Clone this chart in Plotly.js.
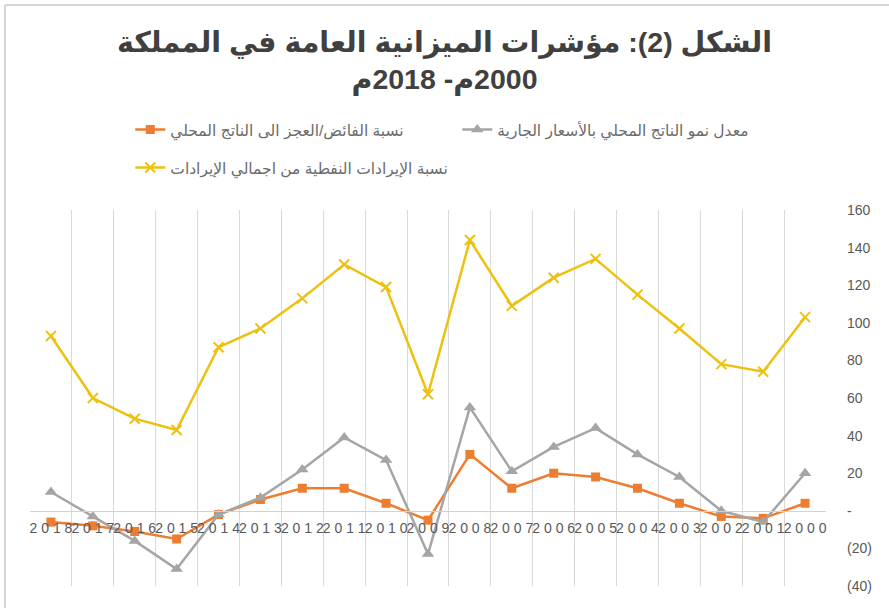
<!DOCTYPE html>
<html>
<head>
<meta charset="utf-8">
<script src="https://cdn.plot.ly/plotly-3.0.1.min.js"></script>
<style>
html,body{margin:0;padding:0;background:#fff;}
#chart{width:889px;height:608px;}
</style>
</head>
<body>
<div id="chart"></div>
<script>
// Categories (left to right as in the reference)
var years = ['2018','2017','2016','2015','2014','2013','2012','2011','2010','2009','2008','2007','2006','2005','2004','2003','2002','2001','2000'];
var yearLabels = ['2 0 1 8','2 0 1 7','2 0 1 6','2 0 1 5','2 0 1 4','2 0 1 3','2 0 1 2','2 0 1 1','2 0 1 0','2 0 0 9','2 0 0 8','2 0 0 7','2 0 0 6','2 0 0 5','2 0 0 4','2 0 0 3','2 0 0 2','2 0 0 1','2 0 0 0'];

// Series values
var surplusDeficitRatio = [-6, -8, -11, -15, -2, 6, 12, 12, 4, -5, 30, 12, 20, 18, 12, 4, -3, -4, 4];
var gdpGrowthCurrent   = [10, -3, -16, -31, -2, 7, 22, 39, 27, -23, 55, 21, 34, 44, 30, 18, 0, -6, 20];
var oilRevenueShare    = [93, 60, 49, 43, 87, 97, 113, 131, 119, 62, 144, 109, 124, 134, 115, 97, 78, 74, 103];

// Y tick labels
var yTickVals = [-40, -20, 0, 20, 40, 60, 80, 100, 120, 140, 160];
var yTickText = ['(40)', '(20)', '-', '20', '40', '60', '80', '100', '120', '140', '160'];

// Legend names and title
var nameSurplus = 'نسبة الفائض/العجز الى الناتج المحلي';
var nameGrowth = 'معدل نمو الناتج المحلي بالأسعار الجارية';
var nameOil = 'نسبة الإيرادات النفطية من اجمالي الإيرادات';
var titleLine1 = 'الشكل (2): مؤشرات الميزانية العامة في المملكة';
var titleLine2 = '\u202Dم2018 -م2000\u202C';

var FONT = 'Arial, "Liberation Sans", "DejaVu Sans", sans-serif';

var traces = [
  {
    x: years, y: surplusDeficitRatio, name: nameSurplus, type: 'scatter', mode: 'lines+markers',
    line: {color: '#ED7D31', width: 2.5},
    marker: {symbol: 'square', size: 9, color: '#ED7D31'},
    legend: 'legend'
  },
  {
    x: years, y: gdpGrowthCurrent, name: nameGrowth, type: 'scatter', mode: 'lines+markers',
    line: {color: '#A5A5A5', width: 2.5},
    marker: {symbol: 'triangle-up', size: 11, color: '#A5A5A5'},
    legend: 'legend'
  },
  {
    x: years, y: oilRevenueShare, name: nameOil, type: 'scatter', mode: 'lines+markers',
    line: {color: '#EDC10F', width: 2.5},
    marker: {symbol: 'x-thin', size: 10, color: '#EDC10F', line: {color: '#EDC10F', width: 2}},
    legend: 'legend2'
  }
];

var layout = {
  width: 889, height: 608,
  margin: {l: 30, r: 63, t: 210, b: 22},
  paper_bgcolor: '#ffffff', plot_bgcolor: '#ffffff',
  font: {family: FONT, color: '#595959'},
  title: {
    text: titleLine1 + '<br>' + titleLine2,
    font: {family: FONT, size: 28.5, color: '#404040', weight: 'bold'},
    x: 0.5, xref: 'container', xanchor: 'center',
    y: 0.915, yref: 'container', yanchor: 'top'
  },
  xaxis: {
    type: 'category',
    categoryorder: 'array', categoryarray: years,
    range: [-0.5, 18.5],
    tickmode: 'array', tickvals: years, ticktext: yearLabels,
    tickson: 'boundaries',
    ticks: '', tickangle: 0,
    showgrid: true, gridcolor: '#D9D9D9', gridwidth: 1,
    showline: true, linecolor: '#BDD7EE', linewidth: 1,
    anchor: 'free', position: 0.2,
    tickfont: {family: FONT, size: 14, color: '#595959'},
    ticklabelstandoff: 4,
    zeroline: false, fixedrange: true
  },
  yaxis: {
    range: [-40, 160],
    side: 'right',
    tickmode: 'array', tickvals: yTickVals, ticktext: yTickText,
    showgrid: false, zeroline: false, showline: false, ticks: '',
    ticklabelstandoff: 20,
    tickfont: {family: FONT, size: 14, color: '#595959'},
    fixedrange: true
  },
  legend: {
    orientation: 'h',
    x: 0.126, xanchor: 'left',
    y: 1.213, yanchor: 'middle',
    entrywidth: 282, entrywidthmode: 'pixels',
    font: {family: FONT, size: 15.5, color: '#6B6B6B'},
    bgcolor: 'rgba(0,0,0,0)'
  },
  legend2: {
    orientation: 'h',
    x: 0.126, xanchor: 'left',
    y: 1.112, yanchor: 'middle',
    font: {family: FONT, size: 15.5, color: '#6B6B6B'},
    bgcolor: 'rgba(0,0,0,0)'
  },
  shapes: [
    {type: 'line', xref: 'paper', yref: 'paper', x0: -0.0314, x1: -0.0314, y0: -0.1, y1: 1.545, line: {color: '#C8C8C8', width: 1.5}},
    {type: 'line', xref: 'paper', yref: 'paper', x0: -0.0314, x1: 1.2, y0: 1.545, y1: 1.545, line: {color: '#C8C8C8', width: 1.5}}
  ],
  showlegend: true
};

Plotly.newPlot('chart', traces, layout, {displayModeBar: false, staticPlot: true});
</script>
</body>
</html>
